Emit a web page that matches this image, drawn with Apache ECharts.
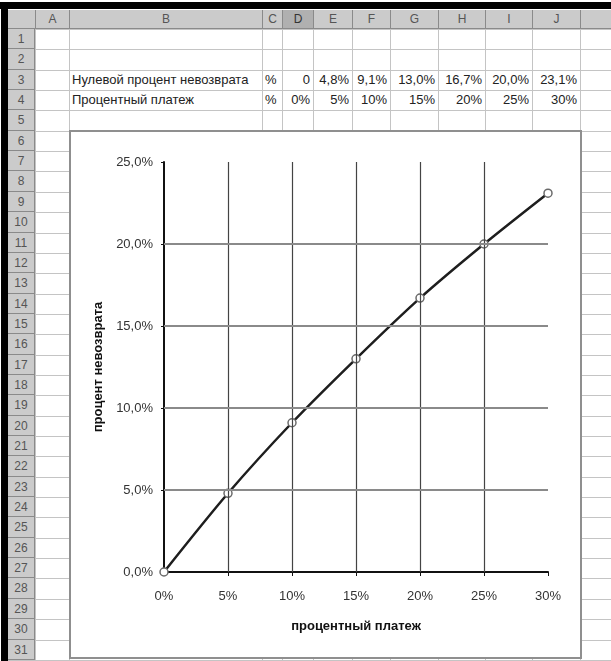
<!DOCTYPE html>
<html>
<head>
<meta charset="utf-8">
<script src="https://cdn.jsdelivr.net/npm/echarts@6/dist/echarts.min.js"></script>
<style>
  html, body { margin: 0; padding: 0; background: #fff; }
  body { width: 611px; height: 661px; overflow: hidden; position: relative;
         font-family: Arial, "Liberation Sans", sans-serif; }
  .abs { position: absolute; box-sizing: border-box; }
  .hdr { background: #cbcbcb; color: #555; font-size: 12px; text-align: center;
         display: flex; align-items: center; justify-content: center; }
  .txt { font-size: 13px; color: #222; white-space: nowrap; line-height: 20px; }
  #chart { position: absolute; left: 69px; top: 130px; width: 513px; height: 529px;
           box-sizing: border-box; border: 2px solid #8f8f8f; background: #fff; }
</style>
</head>
<body>
<div id="sheet"></div>
<div id="chart"></div>
<script>
// Spreadsheet data
const rateLabel = 'Нулевой процент невозврата';
const paymentLabel = 'Процентный платеж';
const unitLabel = '%';
const payments = [0, 5, 10, 15, 20, 25, 30];          // процентный платеж, %
const zeroRates = [0, 4.8, 9.1, 13.0, 16.7, 20.0, 23.1]; // нулевой процент невозврата, %
const xTicks = [0, 5, 10, 15, 20, 25, 30];
const yTicks = [0, 5, 10, 15, 20, 25];
const xTitle = 'процентный платеж';
const yTitle = 'процент невозврата';

// Sheet layout
const colLetters = ['A', 'B', 'C', 'D', 'E', 'F', 'G', 'H', 'I', 'J', 'K'];
const colEdges = [35, 69, 262, 282, 313, 352, 390, 438, 485, 532, 580, 650];
const rowTop = 29, rowH = 20.35, rowCount = 31;
const hdrTop = 10, rowHdrLeft = 8;

const sheet = document.getElementById('sheet');
function box(x, y, w, h, cls, style, text) {
  const d = document.createElement('div');
  d.className = 'abs ' + (cls || '');
  d.style.left = x + 'px'; d.style.top = y + 'px';
  d.style.width = w + 'px'; d.style.height = h + 'px';
  if (style) Object.assign(d.style, style);
  if (text !== undefined) d.textContent = text;
  sheet.appendChild(d);
  return d;
}

// cell grid lines
for (let r = 0; r <= rowCount; r++) {
  const y = Math.round(rowTop + r * rowH);
  box(rowHdrLeft, y, 611 - rowHdrLeft, 1, '', { background: '#c4c4c4' });
}
colEdges.forEach(x => box(x, hdrTop, 1, 661 - hdrTop, '', { background: '#c4c4c4' }));

// column headers
box(rowHdrLeft, hdrTop, 611 - rowHdrLeft, rowTop - hdrTop, 'hdr');
colLetters.forEach((c, i) => {
  const x0 = colEdges[i], x1 = colEdges[i + 1];
  const active = c === 'D';
  box(x0, hdrTop, x1 - x0, rowTop - hdrTop, 'hdr',
      { borderLeft: '1px solid #8a8a8a', borderBottom: '1px solid #8a8a8a',
        background: active ? '#b0b0b0' : '#cbcbcb', color: active ? '#333' : '#555' }, c);
});
box(rowHdrLeft, hdrTop, colEdges[0] - rowHdrLeft, rowTop - hdrTop, 'hdr',
    { borderBottom: '1px solid #8a8a8a' });

// row headers
for (let r = 0; r < rowCount; r++) {
  const y0 = Math.round(rowTop + r * rowH), y1 = Math.round(rowTop + (r + 1) * rowH);
  box(rowHdrLeft, y0, colEdges[0] - rowHdrLeft, y1 - y0, 'hdr',
      { borderBottom: '1px solid #8a8a8a', borderRight: '1px solid #8a8a8a' }, String(r + 1));
}

// window frame
box(0, 2, 611, 7, '', { background: '#000' });
box(1, 2, 7, 659, '', { background: '#000' });

// cell values, rows 3 and 4
function rowY(r) { return Math.round(rowTop + (r - 1) * rowH); }
function fmtRate(v) { return v === 0 ? '0' : v.toFixed(1).replace('.', ',') + '%'; }
function fmtPay(v) { return v + '%'; }
function putRow(r, label, values, fmt) {
  const y = rowY(r);
  box(colEdges[1] + 3, y, colEdges[2] - colEdges[1] - 3, 20, 'txt', null, label);
  box(colEdges[2] + 3, y, colEdges[3] - colEdges[2] - 3, 20, 'txt', null, unitLabel);
  values.forEach((v, i) => {
    const x0 = colEdges[3 + i], x1 = colEdges[4 + i];
    box(x0 - 20, y, x1 - x0 + 20 - 3, 20, 'txt', { textAlign: 'right' }, fmt(v));
  });
}
putRow(3, rateLabel, zeroRates, fmtRate);
putRow(4, paymentLabel, payments, fmtPay);

// chart
const chart = echarts.init(document.getElementById('chart'), null, { renderer: 'canvas' });
const pct = v => v + '%';
const pct1 = v => v.toFixed(1).replace('.', ',') + '%';
const gridX = xTicks.slice(1, -1);
const gridY = yTicks.slice(1, -1);

chart.setOption({
  animation: false,
  backgroundColor: '#fff',
  grid: { left: 93, top: 30, width: 384, height: 410, containLabel: false },
  xAxis: {
    type: 'value', min: 0, max: 30, interval: 5,
    name: xTitle, nameLocation: 'middle', nameGap: 48,
    nameTextStyle: { fontFamily: 'Arial', fontSize: 13, fontWeight: 'bold', color: '#111' },
    axisLine: { show: true, onZero: false, lineStyle: { color: '#111', width: 2 } },
    axisTick: { show: true, length: 4, lineStyle: { color: '#111', width: 1 } },
    axisLabel: { formatter: pct, margin: 18, fontFamily: 'Arial', fontSize: 13, color: '#333' },
    splitLine: { show: false }
  },
  yAxis: {
    type: 'value', min: 0, max: 25, interval: 5,
    name: yTitle, nameLocation: 'middle', nameGap: 57, nameRotate: 90,
    nameTextStyle: { fontFamily: 'Arial', fontSize: 13, fontWeight: 'bold', color: '#111' },
    axisLine: { show: true, onZero: false, lineStyle: { color: '#111', width: 2 } },
    axisTick: { show: true, length: 3, lineStyle: { color: '#111', width: 1 } },
    axisLabel: { formatter: pct1, margin: 11, fontFamily: 'Arial', fontSize: 13, color: '#333' },
    splitLine: { show: false }
  },
  series: [
    {
      type: 'line', data: [], silent: true, z: 1,
      markLine: {
        silent: true, symbol: 'none', animation: false,
        label: { show: false },
        data: [
          ...gridX.map(v => ({ xAxis: v, lineStyle: { color: '#444', width: 1.2, type: 'solid' } })),
          ...gridY.map(v => ({ yAxis: v, lineStyle: { color: '#8a8a8a', width: 2, type: 'solid' } }))
        ]
      }
    },
    {
      type: 'line', z: 3,
      data: payments.map((p, i) => [p, zeroRates[i]]),
      smooth: 0.3,
      lineStyle: { color: '#1e1e1e', width: 2.5 },
      symbol: 'circle', symbolSize: 8,
      itemStyle: { color: '#fff', borderColor: '#6a6a6a', borderWidth: 1.5 }
    }
  ]
});
</script>
</body>
</html>
